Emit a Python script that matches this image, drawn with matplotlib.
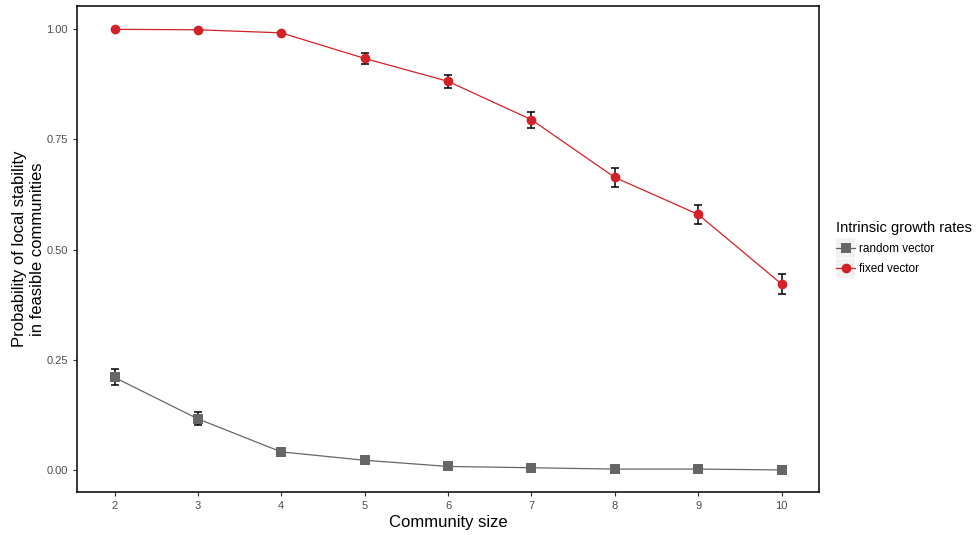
import numpy as np
import matplotlib
matplotlib.use("Agg")
from matplotlib import pyplot as plt
from matplotlib.lines import Line2D
from matplotlib.patches import Rectangle
from matplotlib.legend_handler import HandlerLine2D

plt.rcParams['font.family'] = ['Liberation Sans', 'DejaVu Sans']

size = [2, 3, 4, 5, 6, 7, 8, 9, 10]
fixed_mean = [1.000, 0.999, 0.992, 0.934, 0.882, 0.795, 0.664, 0.580, 0.422]
fixed_err = [0.001, 0.001, 0.003, 0.012, 0.015, 0.018, 0.021, 0.022, 0.022]
random_mean = [0.210, 0.116, 0.041, 0.022, 0.008, 0.005, 0.002, 0.002, 0.000]
random_err = [0.018, 0.015, 0.003, 0.002, 0.001, 0.001, 0.001, 0.001, 0.000]

red = '#D42027'
grey = '#666666'


class KeyHandler(HandlerLine2D):
    # grey key box like ggplot
    def create_artists(self, legend, orig_handle, xdescent, ydescent, width, height, fontsize, trans):
        bg = Rectangle((-xdescent, -ydescent - 4), width, height + 8, facecolor='#F2F2F2',
                       edgecolor='none', transform=trans)
        arts = super().create_artists(legend, orig_handle, xdescent, ydescent, width, height, fontsize, trans)
        return [bg] + list(arts)


fig = plt.figure(figsize=(9.77, 5.35), dpi=100)
ax = fig.add_axes([0.0788, 0.0804, 0.7595, 0.9076])

ax.errorbar(size, random_mean, yerr=random_err, fmt='none', ecolor='black',
            elinewidth=1.1, capsize=3, capthick=1.1, zorder=2)
ax.plot(size, random_mean, color=grey, lw=0.9, marker='s', ms=6.5,
        markeredgewidth=0, zorder=3)
ax.errorbar(size, fixed_mean, yerr=fixed_err, fmt='none', ecolor='black',
            elinewidth=1.1, capsize=3, capthick=1.1, zorder=2)
ax.plot(size, fixed_mean, color=red, lw=0.9, marker='o', ms=7,
        markeredgewidth=0, zorder=3)

ax.set_xlim(1.55, 10.45)
ax.set_ylim(-0.05, 1.052)
ax.set_xticks(size)
ax.set_yticks([0, 0.25, 0.5, 0.75, 1.0])
ax.set_yticklabels(['0.00', '0.25', '0.50', '0.75', '1.00'])
ax.tick_params(labelsize=8, colors='#333333', labelcolor='#4D4D4D', length=3, width=0.8)
for s in ax.spines.values():
    s.set_linewidth(1.1)
    s.set_color('black')

ax.set_xlabel('Community size', fontsize=12, labelpad=3)
ax.set_ylabel('Probability of local stability\nin feasible communities', fontsize=12,
              labelpad=1, linespacing=1.25)

handles = [Line2D([], [], color=grey, marker='s', ms=6.5, lw=0.9, markeredgewidth=0),
           Line2D([], [], color=red, marker='o', ms=7, lw=0.9, markeredgewidth=0)]
leg = fig.legend(handles, ['random vector', 'fixed vector'], title='Intrinsic growth rates',
                 loc='upper left', bbox_to_anchor=(0.851, 0.596), frameon=False,
                 fontsize=8.5, title_fontsize=10.5, handlelength=1.6, handletextpad=0.3,
                 labelspacing=0.7, borderaxespad=0,
                 handler_map={Line2D: KeyHandler()})
leg._legend_box.align = 'left'

fig.savefig('out.png', dpi=100)
